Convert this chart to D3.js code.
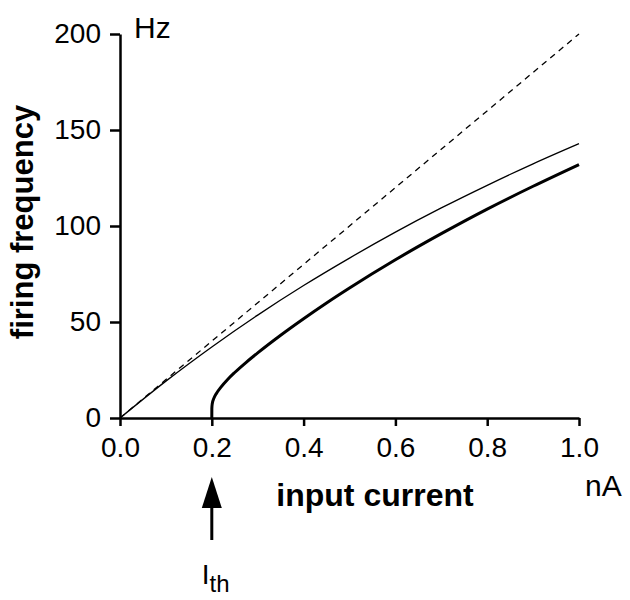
<html>
<head>
<meta charset="utf-8" />
<title>Firing frequency vs input current</title>
<script src="https://d3js.org/d3.v7.min.js"></script>
<style>
  body { margin: 0; background: white; }
  text { font-family: "Liberation Sans", Arial, sans-serif; fill: black; }
  .axis path, .axis line { stroke: black; stroke-width: 2.5; }
  .axis text { font-size: 28px; }
</style>
</head>
<body>
<script>
// input current (nA) and firing rates (Hz)
var linearI = [0, 1.0];
var linearF = [0, 200];

var thinI = [0, 0.1, 0.2, 0.3, 0.4, 0.5, 0.6, 0.7, 0.8, 0.9, 1.0];
var thinF = [0, 19.2, 37.0, 53.6, 69.0, 83.3, 96.8, 109.4, 121.2, 132.4, 142.9];

var thickI = [0.2, 0.2001, 0.201, 0.205, 0.21, 0.22, 0.235, 0.25, 0.275, 0.3, 0.35, 0.4, 0.45, 0.5, 0.6, 0.7, 0.8, 0.9, 1.0];
var thickF = [0, 5.0, 7.4, 10.5, 12.8, 16.1, 20.2, 23.7, 29.0, 33.9, 43.1, 51.7, 59.9, 67.7, 82.4, 96.0, 108.8, 120.7, 132.0];

var xTicks = [0, 0.2, 0.4, 0.6, 0.8, 1.0];
var yTicks = [0, 50, 100, 150, 200];
var threshold = 0.2;

var width = 630, height = 600;

var x = d3.scaleLinear().domain([0, 1]).range([120, 579]),
    y = d3.scaleLinear().domain([0, 200]).range([418, 34]);

var svg = d3.select("body").append("svg")
    .attr("width", width)
    .attr("height", height);

function pts(xs, ys) { return xs.map(function(v, i) { return [v, ys[i]]; }); }

var line = d3.line()
    .x(function(d) { return x(d[0]); })
    .y(function(d) { return y(d[1]); })
    .curve(d3.curveMonotoneX);

// dashed reference line
svg.append("path")
    .attr("d", line(pts(linearI, linearF)))
    .attr("fill", "none")
    .attr("stroke", "black")
    .attr("stroke-width", 1.3)
    .attr("stroke-dasharray", "6,5");

// thin curve
svg.append("path")
    .attr("d", line(pts(thinI, thinF)))
    .attr("fill", "none")
    .attr("stroke", "black")
    .attr("stroke-width", 1.3);

// thick curve
svg.append("path")
    .attr("d", line(pts(thickI, thickF)))
    .attr("fill", "none")
    .attr("stroke", "black")
    .attr("stroke-width", 3);

// axes
svg.append("g")
    .attr("class", "axis")
    .attr("transform", "translate(0," + y(0) + ")")
    .call(d3.axisBottom(x).tickValues(xTicks).tickSize(8).tickSizeOuter(0).tickPadding(11)
      .tickFormat(d3.format(".1f")));

svg.append("g")
    .attr("class", "axis")
    .attr("transform", "translate(" + x(0) + ",0)")
    .call(d3.axisLeft(y).tickValues(yTicks).tickSize(10).tickSizeOuter(0).tickPadding(9));

svg.selectAll(".axis text").attr("font-family", null);

// units
svg.append("text")
    .attr("x", 134).attr("y", 38)
    .style("font-size", "30px")
    .text("Hz");

svg.append("text")
    .attr("x", 585).attr("y", 496)
    .style("font-size", "30px")
    .text("nA");

// axis titles
svg.append("text")
    .attr("x", 375).attr("y", 506)
    .attr("text-anchor", "middle")
    .style("font-size", "32px")
    .style("font-weight", "bold")
    .text("input current");

svg.append("text")
    .attr("transform", "translate(33,222)rotate(-90)")
    .attr("text-anchor", "middle")
    .style("font-size", "31px")
    .style("font-weight", "bold")
    .text("firing frequency");

// threshold arrow
var ax = x(threshold);
svg.append("line")
    .attr("x1", ax).attr("x2", ax)
    .attr("y1", 505).attr("y2", 540)
    .attr("stroke", "black")
    .attr("stroke-width", 3);

svg.append("path")
    .attr("d", "M" + ax + ",477L" + (ax - 10) + ",508L" + (ax + 10) + ",508Z")
    .attr("fill", "black");

var ith = svg.append("text")
    .attr("x", ax - 10).attr("y", 584)
    .style("font-size", "28px")
    .text("I");
ith.append("tspan")
    .attr("dy", 8)
    .style("font-size", "24px")
    .text("th");
</script>
</body>
</html>
